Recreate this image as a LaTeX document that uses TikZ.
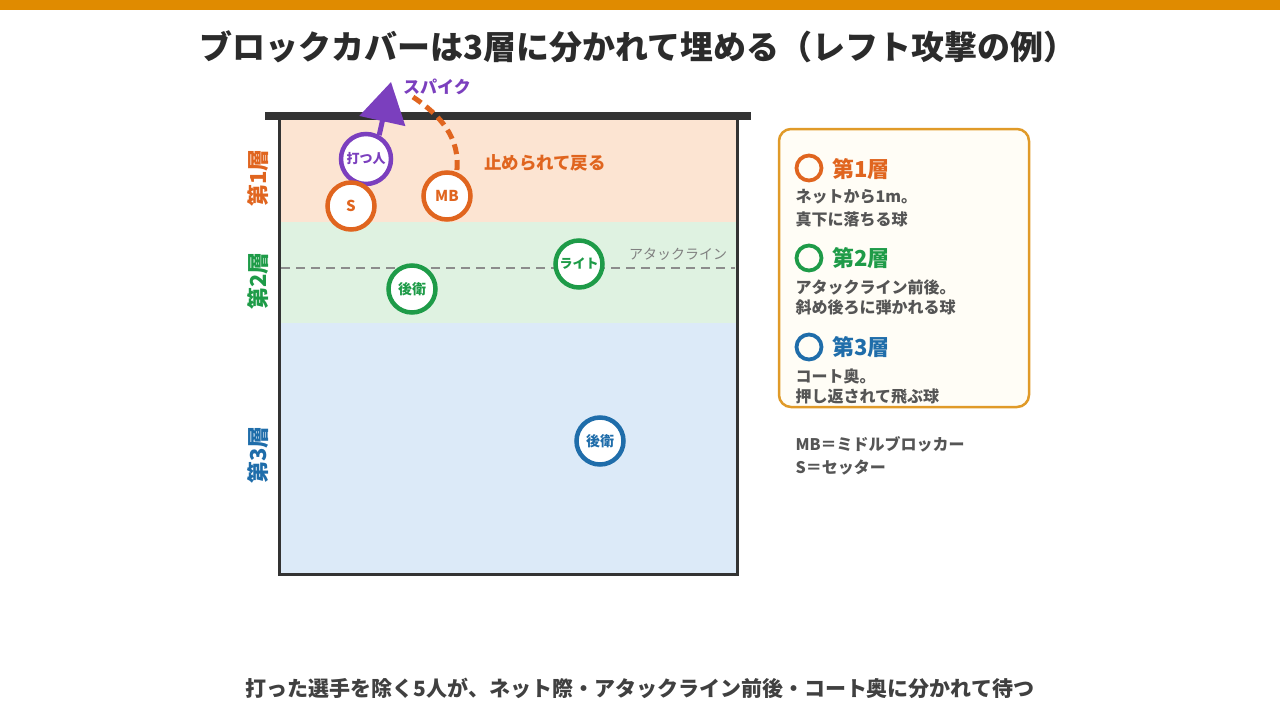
\documentclass[tikz,border=0pt]{standalone}
\usepackage{fontspec}
\setmainfont{Noto Sans CJK JP}
\usetikzlibrary{arrows.meta}
\definecolor{barorange}{HTML}{E08B00}
\definecolor{layerone}{HTML}{E0651F}
\definecolor{layertwo}{HTML}{1E9B48}
\definecolor{layerthree}{HTML}{1F6DAA}
\definecolor{hitter}{HTML}{7B3FBE}
\definecolor{zoneone}{HTML}{FCE4D2}
\definecolor{zonetwo}{HTML}{DFF2E1}
\definecolor{zonethree}{HTML}{DCEAF8}
\definecolor{courtline}{HTML}{333333}
\definecolor{inktext}{HTML}{2B2B2B}
\definecolor{notetext}{HTML}{555555}
\definecolor{legendframe}{HTML}{E09A28}
\definecolor{legendfill}{HTML}{FFFDF6}
\begin{document}
\begin{tikzpicture}[x=1pt,y=-1pt,
    player/.style={circle, draw=#1, line width=4.5pt, fill=white, minimum size=47pt,
        inner sep=0pt, text=#1, font=\fontsize{13}{13}\selectfont\bfseries},
    layerlabel/.style={rotate=90, text=#1, font=\fontsize{22}{22}\selectfont\bfseries},
    legendring/.style={circle, draw=#1, line width=3.8pt, minimum size=25pt, inner sep=0pt},
    legendhead/.style={anchor=west, text=#1, font=\fontsize{22}{22}\selectfont\bfseries},
    legendtext/.style={anchor=west, text=notetext, font=\fontsize{16}{16}\selectfont\bfseries}]
    \useasboundingbox (0,0) rectangle (1280,720);

    % Top bar and title
    \fill[barorange] (0,0) rectangle (1280,10);
    \node[text=inktext, font=\fontsize{33}{33}\selectfont\bfseries] (title) at (638,47)
        {ブロックカバーは3層に分かれて埋める（レフト攻撃の例）};

    % Court zones
    \fill[zoneone] (279,118) rectangle (737,222);
    \fill[zonetwo] (279,222) rectangle (737,323);
    \fill[zonethree] (279,323) rectangle (737,574);
    \draw[courtline, line width=3pt] (279,118) rectangle (737,574);
    \draw[courtline, line width=8pt] (265,116) -- (751,116);

    % Attack line
    \coordinate (attackL) at (281,268);
    \coordinate (attackR) at (735,268);
    \draw[gray!90, line width=2pt, dash pattern=on 9pt off 6pt] (attackL) -- (attackR);
    \node[text=gray, font=\fontsize{14}{14}\selectfont] (attacklabel) at (678,254) {アタックライン};

    % Layer labels
    \node[layerlabel=layerone] (lab1) at (258,178) {第1層};
    \node[layerlabel=layertwo] (lab2) at (258,281) {第2層};
    \node[layerlabel=layerthree] (lab3) at (258,455) {第3層};

    % Players
    \node[player=hitter, minimum size=50pt] (hit) at (366,159) {打つ人};
    \node[player=layerone, font=\fontsize{15}{15}\selectfont\bfseries] (setter) at (351,206) {S};
    \node[player=layerone, font=\fontsize{15}{15}\selectfont\bfseries] (mb) at (447,196) {MB};
    \node[player=layertwo] (right) at (579,264) {ライト};
    \node[player=layertwo, font=\fontsize{14}{14}\selectfont\bfseries] (back2) at (412,289) {後衛};
    \node[player=layerthree, font=\fontsize{14}{14}\selectfont\bfseries] (back3) at (600,441) {後衛};

    % Spike and blocked ball
    \coordinate (spiketip) at (391,82);
    \draw[hitter, line width=5pt, -{Triangle[width=46pt,length=40pt]}] (hit.61) -- (spiketip);
    \node[text=hitter, font=\fontsize{17}{17}\selectfont\bfseries] (spikelabel) at (437,87) {スパイク};
    \coordinate (ballstart) at (413,97);
    \draw[layerone, line width=5pt, dash pattern=on 10pt off 6pt]
        (ballstart) .. controls (440,115) and (461,138) .. (mb.68);
    \node[text=layerone, font=\fontsize{17.5}{17.5}\selectfont\bfseries] (blocklabel) at (545,163) {止められて戻る};

    % Legend
    \node[draw=legendframe, line width=2.5pt, fill=legendfill, rounded corners=12pt,
        minimum width=250pt, minimum height=278pt, inner sep=0pt] (legend) at (904,268) {};
    \node[legendring=layerone] (ring1) at (809,168) {};
    \node[legendhead=layerone] (head1) at (829,169) {第1層};
    \node[legendtext] (text1a) at (792,197) {ネットから1m。};
    \node[legendtext] (text1b) at (792,219) {真下に落ちる球};
    \node[legendring=layertwo] (ring2) at (809,258) {};
    \node[legendhead=layertwo] (head2) at (829,258) {第2層};
    \node[legendtext] (text2a) at (792,287) {アタックライン前後。};
    \node[legendtext] (text2b) at (792,307) {斜め後ろに弾かれる球};
    \node[legendring=layerthree] (ring3) at (809,347) {};
    \node[legendhead=layerthree] (head3) at (829,347) {第3層};
    \node[legendtext] (text3a) at (792,376) {コート奥。};
    \node[legendtext] (text3b) at (792,397) {押し返されて飛ぶ球};

    % Abbreviations
    \node[legendtext] (abbr1) at (792,444) {MB＝ミドルブロッカー};
    \node[legendtext] (abbr2) at (792,468) {S＝セッター};

    % Caption
    \node[text=inktext!90, font=\fontsize{21}{21}\selectfont\bfseries] (caption) at (640,688)
        {打った選手を除く5人が、ネット際・アタックライン前後・コート奥に分かれて待つ};
\end{tikzpicture}
\end{document}
